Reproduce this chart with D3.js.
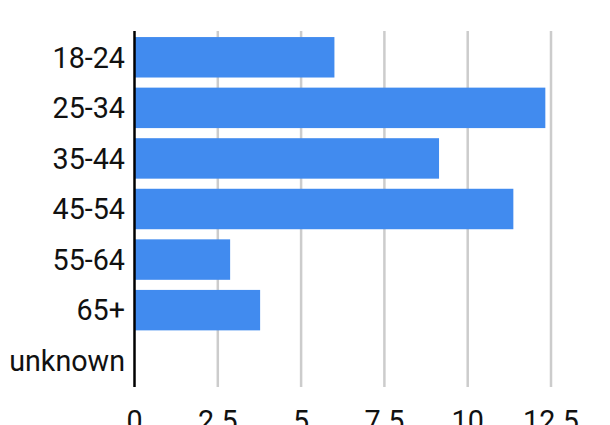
<!DOCTYPE html>
<html>
<head>
<meta charset="utf-8">
<script src="https://cdn.jsdelivr.net/npm/d3@7"></script>
<style>
  html, body { margin: 0; padding: 0; background: #fff; overflow: hidden; }
  svg { display: block; }
</style>
</head>
<body>
<svg id="chart" width="610" height="425"></svg>
<script>
const categories = ["18-24", "25-34", "35-44", "45-54", "55-64", "65+", "unknown"];
const values = [6.0, 12.33, 9.14, 11.37, 2.87, 3.77, 0];
const xTicks = [0, 2.5, 5, 7.5, 10, 12.5];

const svg = d3.select("#chart");
const font = "Roboto, 'Noto Sans', sans-serif";

const x = d3.scaleLinear().domain([0, 12.5]).range([134.5, 551]);
const y = d3.scaleBand().domain(categories).range([32, 386]).paddingInner(0.2).paddingOuter(0.1);

// gridlines
svg.append("g").selectAll("line")
  .data(xTicks.filter(t => t > 0))
  .join("line")
  .attr("x1", d => x(d)).attr("x2", d => x(d))
  .attr("y1", 31).attr("y2", 387)
  .attr("stroke", "#cccccc").attr("stroke-width", 2.5);

// bars
svg.append("g").selectAll("rect")
  .data(categories.map((c, i) => ({ c, v: values[i] })))
  .join("rect")
  .attr("x", x(0))
  .attr("y", d => y(d.c))
  .attr("width", d => x(d.v) - x(0))
  .attr("height", y.bandwidth())
  .attr("fill", "#418bef");

// y axis line
svg.append("line")
  .attr("x1", x(0)).attr("x2", x(0))
  .attr("y1", 31).attr("y2", 387)
  .attr("stroke", "#000").attr("stroke-width", 2.5);

// y labels
svg.append("g").selectAll("text")
  .data(categories)
  .join("text")
  .attr("x", 125)
  .attr("y", d => y(d) + y.bandwidth() / 2)
  .attr("dy", "0.36em")
  .attr("text-anchor", "end")
  .attr("font-family", font)
  .attr("font-size", 28.7)
  .attr("fill", "#111")
  .text(d => d);

// x labels
svg.append("g").selectAll("text")
  .data(xTicks)
  .join("text")
  .attr("x", d => x(d))
  .attr("y", 431)
  .attr("text-anchor", "middle")
  .attr("font-family", font)
  .attr("font-size", 28.7)
  .attr("fill", "#111")
  .text(d => d);
</script>
</body>
</html>
